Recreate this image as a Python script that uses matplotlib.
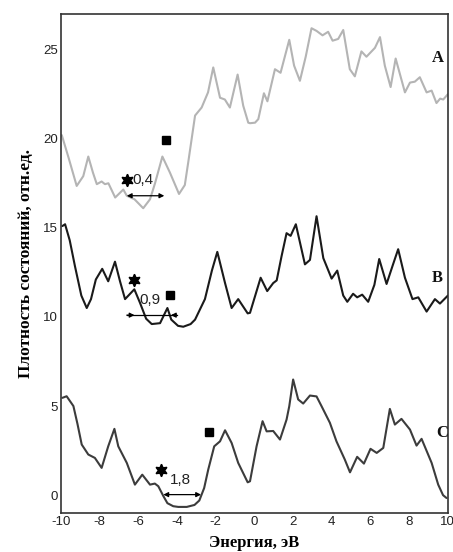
import matplotlib
matplotlib.use('Agg')
import matplotlib.pyplot as plt

plt.rcParams['axes.unicode_minus'] = False

# ── Data ─────────────────────────────────────────────────────────────────────

energy_a = [-9.96, -9.6, -9.19, -8.85, -8.59, -8.35, -8.15, -7.9, -7.73, -7.55,
            -7.2, -6.78, -6.6, -6.2, -5.75, -5.4, -5.14, -4.76, -4.37, -3.9,
            -3.6, -3.42, -3.07, -2.73, -2.4, -2.13, -1.78, -1.53, -1.27, -0.87,
            -0.58, -0.32, -0.23, 0.03, 0.2, 0.49, 0.67, 1.06, 1.35, 1.8,
            2.05, 2.35, 2.65, 2.95, 3.21, 3.52, 3.81, 4.04, 4.33, 4.59,
            4.93, 5.19, 5.53, 5.79, 6.23, 6.49, 6.74, 7.04, 7.3, 7.78,
            8.04, 8.29, 8.55, 8.9, 9.16, 9.41, 9.6, 9.76, 10.0]
dos_a = [20.2, 18.9, 17.35, 17.9, 19.0, 18.1, 17.45, 17.6, 17.45, 17.5,
         16.7, 17.15, 16.8, 16.6, 16.1, 16.6, 17.5, 19.0, 18.1, 16.9,
         17.4, 18.7, 21.3, 21.75, 22.6, 24.0, 22.3, 22.2, 21.75, 23.6,
         21.85, 20.9, 20.87, 20.9, 21.1, 22.55, 22.1, 23.9, 23.7, 25.55,
         24.1, 23.25, 24.6, 26.2, 26.05, 25.8, 26.0, 25.5, 25.6, 26.1,
         23.9, 23.5, 24.9, 24.6, 25.1, 25.7, 24.1, 22.9, 24.5, 22.6,
         23.15, 23.2, 23.45, 22.6, 22.7, 22.0, 22.25, 22.2, 22.5]

energy_b = [-9.93, -9.79, -9.55, -9.28, -8.95, -8.67, -8.45, -8.2, -7.87, -7.56,
            -7.21, -6.95, -6.69, -6.21, -5.92, -5.6, -5.31, -4.88, -4.5, -4.3,
            -3.95, -3.68, -3.3, -3.07, -2.56, -2.2, -1.92, -1.52, -1.18, -0.84,
            -0.35, -0.23, 0.32, 0.66, 0.97, 1.15, 1.4, 1.66, 1.87, 2.14,
            2.61, 2.87, 3.21, 3.56, 3.99, 4.28, 4.59, 4.8, 5.1, 5.31,
            5.57, 5.88, 6.2, 6.45, 6.83, 7.15, 7.43, 7.78, 8.17, 8.47,
            8.9, 9.33, 9.59, 10.0]
dos_b = [15.1, 15.2, 14.3, 12.85, 11.2, 10.5, 11.0, 12.1, 12.7, 12.0,
         13.1, 12.0, 11.0, 11.55, 10.8, 9.9, 9.6, 9.65, 10.5, 9.85,
         9.5, 9.45, 9.6, 9.85, 11.0, 12.6, 13.65, 11.9, 10.5, 11.0,
         10.2, 10.23, 12.2, 11.45, 11.9, 12.05, 13.4, 14.7, 14.55, 15.2,
         12.95, 13.2, 15.65, 13.3, 12.15, 12.6, 11.2, 10.85, 11.3, 11.1,
         11.25, 10.85, 11.8, 13.25, 11.85, 12.9, 13.8, 12.2, 11.0, 11.1,
         10.3, 11.0, 10.75, 11.2]

energy_c = [-9.93, -9.71, -9.36, -9.15, -8.93, -8.59, -8.25, -7.9, -7.56, -7.24,
            -7.04, -6.6, -6.18, -5.8, -5.4, -5.15, -4.97, -4.71, -4.5, -4.2,
            -3.94, -3.5, -3.1, -2.85, -2.6, -2.39, -2.08, -1.78, -1.52, -1.18,
            -0.84, -0.35, -0.23, 0.11, 0.42, 0.63, 0.97, 1.32, 1.66, 1.8,
            2.0, 2.26, 2.52, 2.87, 3.21, 3.47, 3.9, 4.24, 4.67, 4.94,
            5.31, 5.66, 6.0, 6.32, 6.66, 7.0, 7.26, 7.6, 8.04, 8.38,
            8.64, 9.16, 9.5, 9.75, 9.93]
dos_c = [5.46, 5.55, 5.0, 4.0, 2.84, 2.28, 2.09, 1.53, 2.74, 3.72,
         2.74, 1.81, 0.59, 1.15, 0.59, 0.65, 0.5, -0.05, -0.45, -0.62,
         -0.66, -0.66, -0.55, -0.3, 0.4, 1.43, 2.74, 3.02, 3.64, 2.93,
         1.81, 0.72, 0.78, 2.74, 4.15, 3.58, 3.6, 3.12, 4.24, 4.99,
         6.49, 5.37, 5.14, 5.59, 5.54, 4.99, 4.06, 3.02, 2.0, 1.28,
         2.15, 1.77, 2.6, 2.37, 2.65, 4.84, 3.96, 4.28, 3.68, 2.78,
         3.16, 1.81, 0.59, 0.0, -0.16]

curve_labels = ['A', 'B', 'C']
label_pos = [(9.5, 24.55), (9.45, 12.2), (9.68, 3.5)]

# star / square markers and gap annotations (x, y)
stars = [(-6.6, 17.67), (-6.21, 12.1), (-4.83, 1.43)]
squares = [(-4.59, 19.93), (-4.37, 11.22), (-2.35, 3.53)]
gap_text = ['0,4', '0,9', '1,8']
gap_text_pos = [(-5.75, 17.67), (-5.4, 10.93), (-3.85, 0.85)]
gap_arrow = [(-6.6, -4.66, 16.8), (-6.6, -4.02, 10.1), (-4.71, -2.76, 0.03)]

xticks = list(range(-10, 11, 2))
yticks = [0, 5, 10, 15, 20, 25]

# ── Plot ─────────────────────────────────────────────────────────────────────

fig = plt.figure(figsize=(4.53, 5.52), dpi=100)
ax = fig.add_axes([0.1347, 0.0707, 0.854, 0.904])

kw = dict(lw=1.5, solid_joinstyle='round', solid_capstyle='round')
ax.plot(energy_a, dos_a, color='#b4b4b4', **kw)
ax.plot(energy_b, dos_b, color='#1a1a1a', **kw)
ax.plot(energy_c, dos_c, color='#3c3c3c', **kw)

for (x, y) in stars:
    ax.plot(x, y, marker=(6, 1, 0), color='black', ms=9, ls='none')
for (x, y) in squares:
    ax.plot(x, y, marker='s', color='black', ms=6, ls='none')
for txt, (x, y) in zip(gap_text, gap_text_pos):
    ax.text(x, y, txt, ha='center', va='center', fontsize=11,
            family='Liberation Sans', color='#222222')

# A and C: double-headed arrows
for i in (0, 2):
    x0, x1, y = gap_arrow[i]
    ax.annotate('', xy=(x1, y), xytext=(x0, y),
                arrowprops=dict(arrowstyle='<|-|>', color='black', lw=0.9,
                                mutation_scale=7, shrinkA=0, shrinkB=0))
# B: arrows pointing inward
x0, x1, y = gap_arrow[1]
ax.plot([x0, x1], [y, y], color='black', lw=0.9)
ax.annotate('', xy=(x0 + 0.4, y), xytext=(x0, y),
            arrowprops=dict(arrowstyle='-|>', color='black', lw=0.9,
                            mutation_scale=7, shrinkA=0, shrinkB=0))
ax.annotate('', xy=(x1 - 0.3, y), xytext=(x1, y),
            arrowprops=dict(arrowstyle='-|>', color='black', lw=0.9,
                            mutation_scale=7, shrinkA=0, shrinkB=0))

for lab, (x, y) in zip(curve_labels, label_pos):
    ax.text(x, y, lab, ha='center', va='center', fontsize=12,
            fontweight='bold', family='Liberation Serif', color='#111111')

ax.set_xlim(-10, 10)
ax.set_ylim(-1, 27)
ax.set_xticks(xticks)
ax.set_yticks(yticks)
ax.tick_params(length=0, pad=2, labelsize=9.5, colors='#222222')
for lbl in ax.get_xticklabels() + ax.get_yticklabels():
    lbl.set_family('Liberation Sans')
for sp in ax.spines.values():
    sp.set_color('#333333')
    sp.set_linewidth(1.2)

ax.set_xlabel('Энергия, эВ', fontsize=12, fontweight='bold',
              family='Liberation Serif', labelpad=5)
ax.set_ylabel('Плотность состояний, отн.ед.', fontsize=12.5, fontweight='bold',
              family='Liberation Serif', labelpad=7)

plt.savefig('out.png', dpi=100)
